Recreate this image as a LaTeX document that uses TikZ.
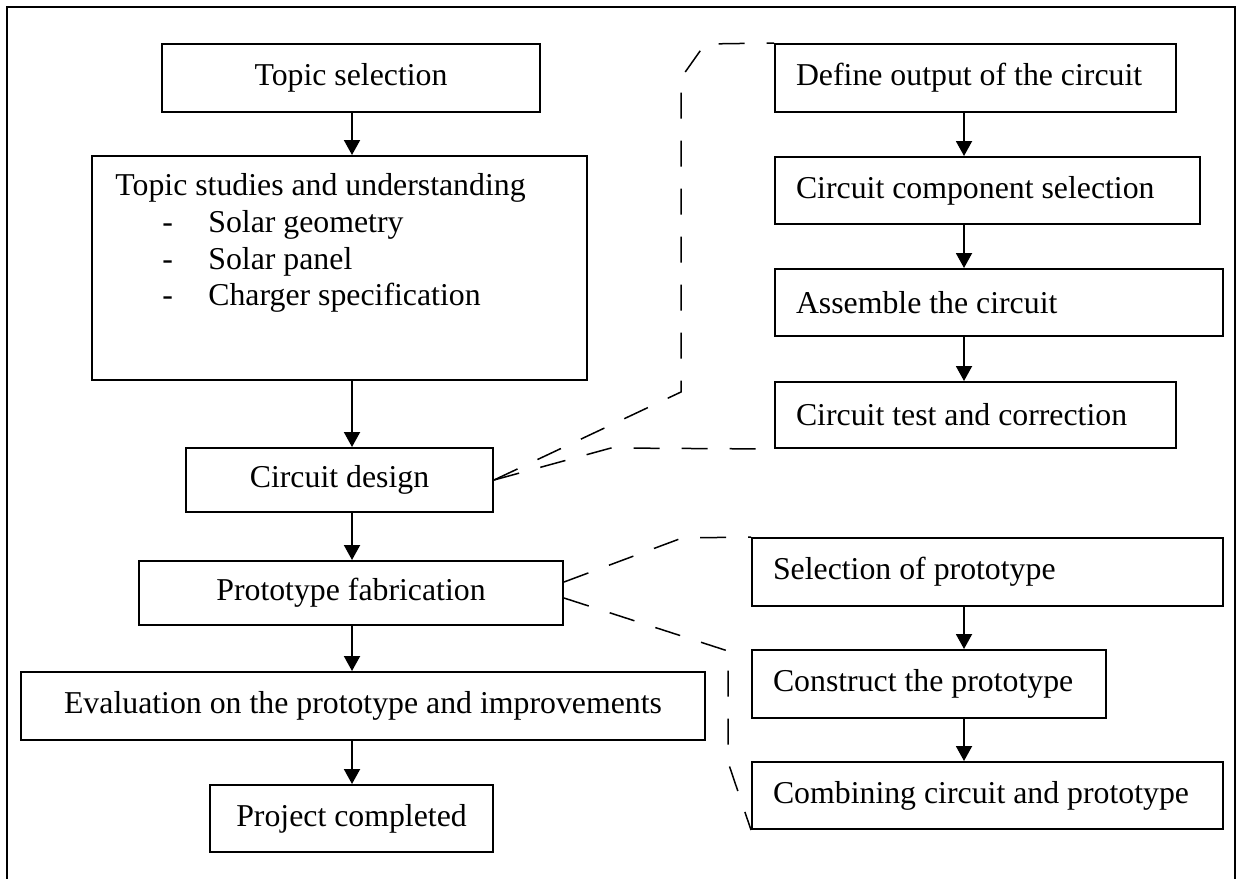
\documentclass[tikz,border=0pt]{standalone}
\usepackage{fontspec}
\setmainfont{Liberation Serif}
\usetikzlibrary{arrows.meta}
\newcommand\myfs{\fontsize{15.9}{18.3}\selectfont}
\begin{document}
\begin{tikzpicture}[x=0.5pt,y=-0.5pt,
  box/.style={draw, line width=1pt, inner sep=0pt, align=flush center, font=\myfs},
  lbox/.style={draw, line width=1pt, inner xsep=10.5pt, inner ysep=0pt, align=flush left, font=\myfs},
  arr/.style={line width=1pt, -{Triangle[width=8pt,length=7.5pt]}},
  callout/.style={line width=0.75pt, dash pattern=on 13pt off 11pt}]
\useasboundingbox (0,0) rectangle (1240,878);
\draw[line width=1pt] (7,882) -- (7,7) -- (1235,7) -- (1235,882);

% left column
\node[box, minimum width=189pt, minimum height=34pt] (ts) at (351,78) {Topic selection};
\node[draw, line width=1pt, inner sep=0pt, minimum width=247.5pt, minimum height=112pt] (tsu) at (339.5,268) {};
\node[anchor=north west, inner sep=0pt, align=flush left, font=\myfs] (tsut) at (115,173.4)
  {Topic studies and understanding\\
   \hspace*{23.5pt}\makebox[23pt][l]{-}Solar geometry\\
   \hspace*{23.5pt}\makebox[23pt][l]{-}Solar panel\\
   \hspace*{23.5pt}\makebox[23pt][l]{-}Charger specification};
\node[box, minimum width=153.5pt, minimum height=32pt] (cd) at (339.5,480) {Circuit design};
\node[box, minimum width=212pt, minimum height=32pt] (pf) at (351,593) {Prototype fabrication};
\node[box, minimum width=342pt, minimum height=34pt] (ev) at (363,706) {Evaluation on the prototype and improvements};
\node[box, minimum width=141.5pt, minimum height=33.5pt] (pc) at (351.5,818.5) {Project completed};

% right column, circuit
\node[lbox, text width=179.5pt, minimum height=34pt] (d1) at (975.5,78) {Define output of the circuit};
\node[lbox, text width=191.5pt, minimum height=33.5pt] (d2) at (987.5,190.5) {Circuit component selection};
\node[lbox, text width=203pt, minimum height=33.5pt] (d3) at (999,302.5) {Assemble the circuit};
\node[lbox, text width=179.5pt, minimum height=33pt] (d4) at (975.5,415) {Circuit test and correction};

% right column, prototype
\node[lbox, text width=214.5pt, minimum height=34pt] (p1) at (987.5,572) {Selection of prototype};
\node[lbox, text width=156pt, minimum height=34pt] (p2) at (929,684) {Construct the prototype};
\node[lbox, text width=214.5pt, minimum height=33.5pt] (p3) at (987.5,795.5) {Combining circuit and prototype};

\coordinate (lx) at (352,0);
\coordinate (ax) at (964,0);

% arrows left
\draw[arr] (ts.south -| lx) -- (tsu.north -| lx);
\draw[arr] (tsu.south -| lx) -- (cd.north -| lx);
\draw[arr] (cd.south -| lx) -- (pf.north -| lx);
\draw[arr] (pf.south -| lx) -- (ev.north -| lx);
\draw[arr] (ev.south -| lx) -- (pc.north -| lx);

% arrows right
\draw[arr] (d1.south -| ax) -- (d2.north -| ax);
\draw[arr] (d2.south -| ax) -- (d3.north -| ax);
\draw[arr] (d3.south -| ax) -- (d4.north -| ax);
\draw[arr] (p1.south -| ax) -- (p2.north -| ax);
\draw[arr] (p2.south -| ax) -- (p3.north -| ax);

% callouts
\coordinate (a1) at (681,392);
\coordinate (a2) at (681,78);
\coordinate (a3) at (705,44);
\coordinate (b1) at (611,448);
\coordinate (c1) at (682,538);
\coordinate (e1) at (728,651);
\coordinate (e2) at (728,762);
\draw[callout] (cd.east) -- (a1) -- (a2) -- (a3) -- (d1.north west);
\draw[callout] (cd.east) -- (b1) -- (d4.south west);
\draw[callout] ([yshift=5.5pt]pf.east) -- (c1) -- (p1.north west);
\draw[callout] ([yshift=-2.5pt]pf.east) -- (e1) -- (e2) -- (p3.south west);
\end{tikzpicture}
\end{document}
